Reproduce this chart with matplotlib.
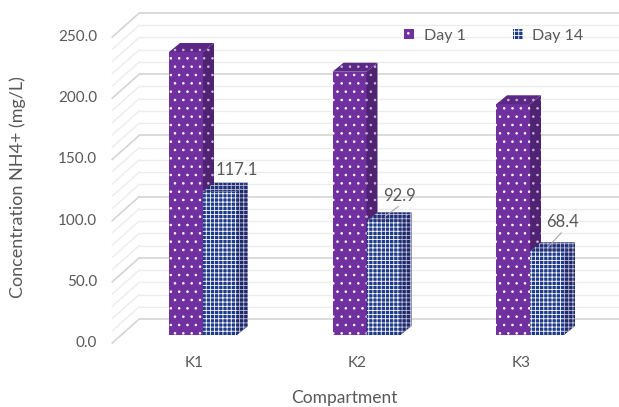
import numpy as np
import matplotlib.pyplot as plt
from matplotlib.patches import Polygon, Patch

# NH4+ concentration per compartment
compartments = ['K1', 'K2', 'K3']
day1 = [231.2, 215.1, 188.5]
day14 = [117.1, 92.9, 68.4]
series_names = ['Day 1', 'Day 14']
y_ticks = [0, 50, 100, 150, 200, 250]

plt.rcParams['font.family'] = ['Lato', 'DejaVu Sans']
plt.rcParams['hatch.linewidth'] = 0.6

W, H = 619, 407
fig = plt.figure(figsize=(W / 100, H / 100), dpi=100)
ax = fig.add_axes([0, 0, 1, 1])

# oblique projection: pixel sizes converted to data units
PX_X = 1 / 163.5     # category units per pixel
PX_Y = 1 / 1.224     # value units per pixel
ax.set_xlim(-203 * PX_X, (W - 203) * PX_X)
ax.set_ylim(-(H - 335) * PX_Y, 335 * PX_Y)
ax.axis('off')

back_dx, back_dy = 18 * PX_X, 16 * PX_Y      # bar plane -> back wall
front_dx, front_dy = -9 * PX_X, -8 * PX_Y    # bar plane -> front edge
bar_dx, bar_dy = 11 * PX_X, 9 * PX_Y         # bar depth
bar_w = 34 * PX_X

text_col = '#595959'
x = np.arange(len(compartments))
left_edge = -0.5
right_edge = len(compartments) - 0.5 + 0.2

# walls: gridlines every 10, stronger every 50
for v in range(0, 251, 10):
    col = '#d4d4d4' if v % 50 == 0 else '#ececec'
    lw = 1.2 if v % 50 == 0 else 1.0
    ax.plot([left_edge + back_dx, right_edge + back_dx], [v + back_dy, v + back_dy],
            color=col, lw=lw, zorder=1, solid_capstyle='butt')
    ax.plot([left_edge + front_dx, left_edge + back_dx], [v + front_dy, v + back_dy],
            color=col, lw=lw, zorder=1)

for v in y_ticks:
    ax.text(left_edge + front_dx - 15 * PX_X, v + front_dy, f'{v:.1f}',
            ha='right', va='center', fontsize=11, color=text_col)

styles = [
    dict(front='#7030a0', side='#4f2272', top='#5c2886', hatch='..'),
    dict(front='#1f3a8a', side='#172c68', top='#1a3276', hatch='++++'),
]
offsets = [-bar_w / 2, bar_w / 2]

for i in range(len(compartments)):
    for s, vals in enumerate([day1, day14]):
        st = styles[s]
        xc = x[i] + offsets[s]
        h = vals[i]
        ax.bar(xc, h, width=bar_w, color=st['front'], edgecolor='white',
               linewidth=0, hatch=st['hatch'], zorder=3 + s * 2)
        xl, xr = xc - bar_w / 2, xc + bar_w / 2
        side = Polygon([(xr, 0), (xr + bar_dx, bar_dy), (xr + bar_dx, h + bar_dy), (xr, h)],
                       closed=True, facecolor=st['side'], edgecolor='#c8b8d8',
                       linewidth=0, hatch=st['hatch'], zorder=3 + s * 2)
        top = Polygon([(xl, h), (xr, h), (xr + bar_dx, h + bar_dy), (xl + bar_dx, h + bar_dy)],
                      closed=True, facecolor=st['top'], edgecolor='#c8b8d8',
                      linewidth=0, hatch=st['hatch'], zorder=3 + s * 2)
        ax.add_patch(side)
        ax.add_patch(top)

# value labels for Day 14
label_off = [(0.104, 18), (0.095, 21), (0.092, 24)]
for i, v in enumerate(day14):
    xc = x[i] + offsets[1]
    lx, ly = xc + label_off[i][0], v + label_off[i][1]
    ax.text(lx, ly, f'{v:.1f}', ha='center', va='center', fontsize=12,
            color=text_col, zorder=10)
    if i > 0:
        ax.plot([lx - 0.005, xc + 0.01], [ly - 9, v + 4], color='#a6a6a6',
                lw=0.8, zorder=9)

for i, c in enumerate(compartments):
    ax.text(x[i] + front_dx, front_dy - 20 * PX_Y, c, ha='center', va='center',
            fontsize=11, color=text_col)

ax.text(344 * PX_X - 203 * PX_X, -(398 - 335) * PX_Y, 'Compartment', ha='center',
        va='center', fontsize=12.5, color=text_col)
fig.text(18 / W, 1 - 187 / H, 'Concentration NH4+ (mg/L)', rotation=90,
         ha='center', va='center', fontsize=13, color=text_col)

handles = [Patch(facecolor=styles[k]['front'], edgecolor='white', linewidth=0,
                 hatch=styles[k]['hatch'], label=series_names[k]) for k in range(2)]
ax.legend(handles=handles, loc='center left', bbox_to_anchor=(390 / W, 1 - 36 / H),
          ncol=2, frameon=False, fontsize=11.5, handlelength=0.6, handleheight=0.6,
          handletextpad=0.6, columnspacing=3.0, labelcolor=text_col)

fig.savefig('out.png', dpi=100)
